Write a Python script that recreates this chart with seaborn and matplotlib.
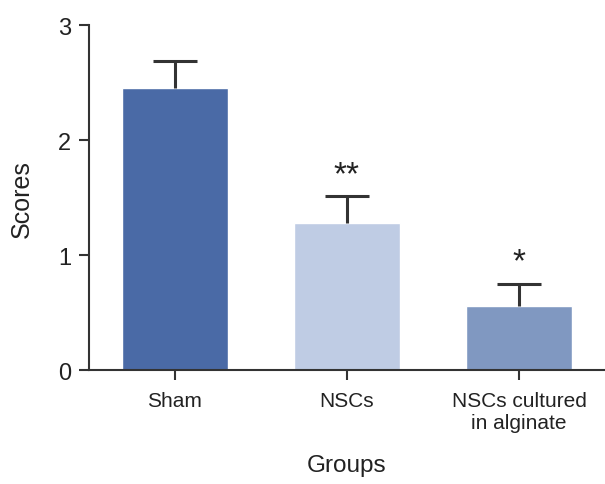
"""scores by group"""

import pandas as pd
import numpy as np
import matplotlib.pyplot as plt
import seaborn as sns

sns.set_theme(style="ticks")
plt.rcParams["font.family"] = ["Liberation Sans", "DejaVu Sans"]

groups = ["Sham", "NSCs", "NSCs cultured\nin alginate"]
scores = [2.45, 1.28, 0.56]
errors = [0.24, 0.23, 0.19]
stars = ["", "**", "*"]
colors = ["#4a6aa6", "#bfcce4", "#8098c1"]

df = pd.DataFrame({"Groups": groups, "Scores": scores})

fig, ax = plt.subplots(figsize=(6.05, 4.85), dpi=100)
fig.subplots_adjust(left=0.147, right=1.0, bottom=0.235, top=0.946)

sns.barplot(data=df, x="Groups", y="Scores", hue="Groups", palette=colors,
            width=0.62, legend=False, ax=ax, saturation=1)

# upper error bars only
x = np.arange(len(groups))
tops = np.array(scores) + np.array(errors)
ax.vlines(x, scores, tops, color="#333333", lw=2.2, zorder=3)
ax.hlines(tops, x - 0.13, x + 0.13, color="#333333", lw=2.2, zorder=3)

# significance marks
for i, s in enumerate(stars):
    if s:
        ax.text(x[i], tops[i] + 0.19, s, ha="center", va="center",
                fontsize=24, color="#222222")

ax.set_ylim(0, 3)
ax.set_xlim(-0.5, 2.5)
ax.set_yticks([0, 1, 2, 3])
ax.set_xlabel("Groups", fontsize=17.5, color="#222222", labelpad=16)
ax.set_ylabel("Scores", fontsize=18, color="#222222", labelpad=17)
ax.tick_params(axis="x", labelsize=15, length=7, width=1.5, color="#333333",
               labelcolor="#222222", pad=8)
ax.tick_params(axis="y", labelsize=17, length=7, width=1.5, color="#333333",
               labelcolor="#222222", pad=6)
for side in ["top", "right"]:
    ax.spines[side].set_visible(False)
for side in ["left", "bottom"]:
    ax.spines[side].set_linewidth(1.5)
    ax.spines[side].set_color("#333333")

fig.savefig("out.png", dpi=100)
